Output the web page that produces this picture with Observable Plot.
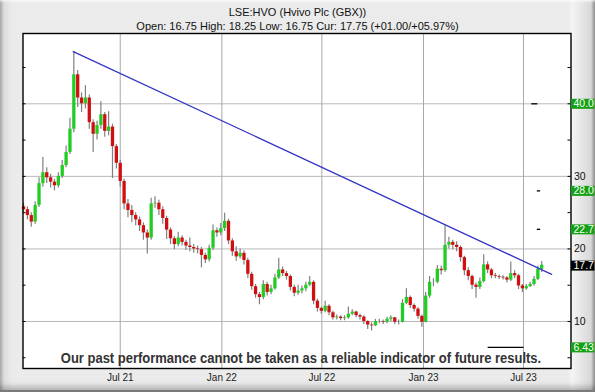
<!DOCTYPE html>
<html>
<head>
<meta charset="utf-8">
<script src="https://cdn.jsdelivr.net/npm/d3@7"></script>
<script src="https://cdn.jsdelivr.net/npm/@observablehq/plot@0.6"></script>
<style>
  html, body { margin: 0; padding: 0; background: #ffffff; }
  #wrap {
    position: relative; width: 595px; height: 392px; box-sizing: border-box; overflow: hidden;
    background: linear-gradient(to right, #a9a9a9 0px, #dcdcdc 4px, #ebebeb 12px, #ebebeb 568px, #f4f4f4 572px, #d8d8d8 591px, #8c8c8c 595px);
    box-shadow: inset 0 -7px 6px -4px rgba(0,0,0,0.28), inset 0 3px 3px -2px rgba(255,255,255,0.9);
    border-bottom: 2px solid #7a7a7a;
    font-family: "Liberation Sans", Arial, sans-serif;
  }
  #head { height: 32px; box-sizing: border-box; padding-top: 5px; text-align: center; font-size: 11px; line-height: 14px; color: #111; }
  #chart svg { display: block; }
</style>
</head>
<body>
<div id="wrap">
  <div id="head">
    <div id="title"></div>
    <div id="subtitle"></div>
  </div>
  <div id="chart"></div>
</div>
<script>
// ---------- data ----------
const titleText = "LSE:HVO (Hvivo Plc (GBX))";
const subtitleText = "Open: 16.75 High: 18.25 Low: 16.75 Cur: 17.75 (+01.00/+05.97%)";
const disclaimerText = "Our past performance cannot be taken as a reliable indicator of future results.";

const tickDates = ["2021-07-01", "2022-01-01", "2022-07-01", "2023-01-01", "2023-07-01"];
const tickLabels = ["Jul 21", "Jan 22", "Jul 22", "Jan 23", "Jul 23"];
const yGridValues = [10, 20, 30, 40];
const yAxisLabels = [10, 20, 30];
const yMinorTicks = [5, 10, 15, 20, 25, 30, 35, 40, 45];

const levelValues = [40.0, 28.0, 22.7, 17.7, 6.43];
const levelLabels = ["40.0", "28.0", "22.7", "17.7", "6.43"];
const levelColors = ["#14a014", "#14a014", "#14a014", "#000000", "#14a014"];

const markerValues = [40, 28, 22.7, 6.43];
const markerStarts = ["2023-07-16", "2023-07-26", "2023-07-26", "2023-04-28"];
const markerEnds = ["2023-07-27", "2023-08-01", "2023-08-01", "2023-07-02"];

const trendDates = ["2021-04-07", "2023-08-21"];
const trendValues = [47.2, 16.5];

const firstWeek = "2021-01-07";
const firstOpen = 25.8;
const closes = [
  25.4,24.6,23.7,26.0,29.0,30.5,29.8,29.2,28.7,30.0,
  31.5,33.3,36.5,44.0,40.8,40.0,40.8,37.4,35.8,37.0,
  38.5,36.2,36.8,34.1,31.8,29.3,26.2,25.3,24.6,24.0,
  23.2,22.2,21.5,26.2,26.3,25.4,24.2,22.6,21.4,20.6,
  21.5,20.9,20.4,20.2,20.0,19.9,19.1,18.5,20.1,22.5,
  22.2,22.8,23.8,21.1,19.6,18.9,19.4,18.4,16.5,14.8,
  13.7,13.3,15.1,14.0,14.5,16.0,17.1,16.6,16.2,14.7,
  13.9,14.2,14.5,15.0,15.4,12.8,11.8,11.4,12.1,11.2,
  10.5,10.6,10.4,10.5,11.0,11.3,10.8,10.6,10.0,9.5,
  9.4,10.0,10.0,9.9,10.3,10.5,9.9,9.9,12.5,13.3,
  12.2,11.7,10.7,9.9,13.5,15.4,15.4,17.2,17.0,20.5,
  20.9,20.5,20.2,18.8,17.0,16.2,15.0,14.7,15.5,17.8,
  17.1,16.3,16.2,16.1,16.0,15.7,16.6,16.3,14.9,14.5,
  14.8,15.1,15.8,17.2,17.75
];
const highs = [
  26.3,25.8,25.0,26.5,29.8,32.6,31.2,30.3,29.6,30.5,
  32.2,34.2,38.0,47.2,44.6,41.5,42.5,41.2,37.8,37.6,
  40.3,38.8,38.9,37.2,34.4,32.2,29.6,26.8,26.0,25.0,
  24.4,23.6,22.6,27.0,27.2,26.7,25.8,24.5,22.9,21.7,
  22.3,21.8,21.2,21.5,20.6,20.4,20.2,19.4,20.5,23.3,
  22.9,23.5,24.9,24.1,21.4,20.3,20.0,19.7,18.7,16.8,
  15.1,14.0,15.6,15.4,15.0,16.5,18.7,17.5,16.9,16.4,
  15.0,15.0,14.9,15.4,16.2,15.6,13.1,12.0,12.8,12.3,
  11.4,10.9,10.8,10.8,12.0,11.6,11.4,11.0,10.8,10.1,
  9.8,10.3,10.3,10.2,10.6,10.8,10.6,10.2,13.0,14.5,
  13.5,12.4,11.9,10.9,14.0,16.2,15.9,17.7,17.6,23.2,
  21.6,21.2,21.0,20.4,19.0,17.4,16.4,15.3,16.0,19.2,
  18.2,17.3,16.6,16.4,16.3,16.2,18.2,17.0,16.5,15.1,
  15.1,15.4,16.2,17.6,18.25
];
const lows = [
  24.9,24.0,23.0,23.4,25.7,28.5,29.0,28.4,28.0,28.4,
  29.7,31.2,33.0,36.0,39.5,38.8,39.3,36.5,33.3,35.0,
  36.5,35.4,35.6,29.7,31.0,28.5,25.4,24.3,23.6,23.2,
  22.4,21.2,19.3,21.2,25.6,24.6,23.4,21.3,20.6,19.9,
  20.3,20.4,19.8,19.6,19.4,19.3,17.4,18.0,18.2,19.8,
  21.6,21.8,22.4,20.6,19.0,18.3,18.6,17.8,15.9,14.3,
  13.2,12.3,13.0,13.5,13.7,14.3,15.8,16.2,15.7,14.2,
  13.4,13.6,13.8,14.1,14.8,12.3,11.3,11.0,11.2,10.8,
  10.2,10.2,10.1,10.1,10.3,10.8,10.5,10.2,9.6,8.9,
  8.7,9.3,9.7,9.6,9.7,10.0,9.6,9.5,9.8,12.3,
  11.8,11.3,10.3,9.2,9.8,13.2,14.8,15.2,16.4,16.8,
  20.0,19.9,19.6,18.2,16.3,15.6,14.4,13.2,14.4,15.3,
  16.6,15.9,15.9,15.8,15.7,15.3,15.5,15.9,14.4,14.0,
  14.3,14.7,14.9,15.6,16.75
];

// ---------- tables ----------
const start = new Date(firstWeek + "T00:00:00Z");
const bars = closes.map((c, i) => ({
  date: d3.utcDay.offset(start, 7 * i),
  open: i === 0 ? firstOpen : closes[i - 1],
  close: c,
  high: highs[i],
  low: lows[i]
}));
const trend = trendDates.map((d, i) => ({date: new Date(d + "T00:00:00Z"), value: trendValues[i]}));
const markers = markerValues.map((v, i) => ({value: v, start: new Date(markerStarts[i] + "T00:00:00Z"), end: new Date(markerEnds[i] + "T00:00:00Z")}));
const levels = levelValues.map((v, i) => ({value: v, label: levelLabels[i], color: levelColors[i]}));
const tickDateObjs = tickDates.map(d => new Date(d + "T00:00:00Z"));

document.getElementById("title").textContent = titleText;
document.getElementById("subtitle").textContent = subtitleText;

// ---------- plot ----------
const W = 595, H = 360, mL = 22.5, mR = 24.5;
const frameW = W - mL - mR;
const up = "#22cc22", down = "#d01010";

const chart = Plot.plot({
  width: W, height: H,
  marginLeft: mL, marginRight: mR, marginTop: 1, marginBottom: 24,
  style: {background: "transparent", fontFamily: "'Liberation Sans', Arial, sans-serif", fontSize: "10px", color: "#222", overflow: "visible"},
  color: {type: "identity"},
  x: {
    type: "utc",
    domain: [new Date("2021-01-06T00:00:00Z"), new Date("2023-09-25T00:00:00Z")],
    ticks: tickDateObjs,
    tickFormat: d => tickLabels[tickDateObjs.findIndex(t => +t === +d)],
    tickSize: 0, tickPadding: 5, label: null
  },
  y: {domain: [3.52, 49.69], axis: null},
  marks: [
    Plot.frame({fill: "white", stroke: null}),
    Plot.ruleY(yGridValues, {stroke: "#b8b8b8", strokeWidth: 1}),
    Plot.ruleX(tickDateObjs, {stroke: "#a8a8a8", strokeWidth: 1}),
    Plot.tickY(yMinorTicks, {insetRight: frameW - 3, stroke: "#000"}),
    Plot.tickY(yMinorTicks, {insetLeft: frameW - 3, stroke: "#000"}),
    Plot.ruleX(bars, {x: "date", y1: "low", y2: "high", stroke: "#808080", strokeWidth: 1.2}),
    Plot.ruleX(bars, {x: "date", y1: "open", y2: "close", stroke: d => d.close >= d.open ? up : down, strokeWidth: 3.3}),
    Plot.line(trend, {x: "date", y: "value", stroke: "#3434c6", strokeWidth: 1.3}),
    Plot.ruleY(markers, {y: "value", x1: "start", x2: "end", stroke: "#000", strokeWidth: 1.3}),
    Plot.text([disclaimerText], {text: d => d, frameAnchor: "bottom", dy: -10, dx: 4, fontSize: 15, fontWeight: "bold",
      fontFamily: "'Liberation Sans Narrow', 'Liberation Sans', Arial, sans-serif", fill: "#333", lineAnchor: "middle"}),
    Plot.frame({stroke: "#000", strokeWidth: 1.4}),
    Plot.text(yAxisLabels, {y: d => d, text: d => String(d), frameAnchor: "right", dx: 3, textAnchor: "start", fontSize: 10.5, fill: "#111"}),
    Plot.ruleY(levels, {y: "value", stroke: "color", strokeWidth: 10, insetLeft: frameW - 23.5, dx: 24}),
    Plot.text(levels, {y: "value", text: "label", frameAnchor: "right", dx: 2.5, textAnchor: "start", fill: "white", fontSize: 10.5})
  ]
});
document.getElementById("chart").appendChild(chart);

// condense the disclaimer horizontally to the reference width (narrow bold face)
d3.select(chart).selectAll("text").filter(function () { return this.textContent === disclaimerText; })
  .each(function () {
    const natural = this.getComputedTextLength();
    const s = Math.min(1, 481 / natural);
    const t = this.getAttribute("transform") || "";
    this.setAttribute("transform", (t + ` scale(${s.toFixed(4)},1)`).trim());
  });
</script>
</body>
</html>
